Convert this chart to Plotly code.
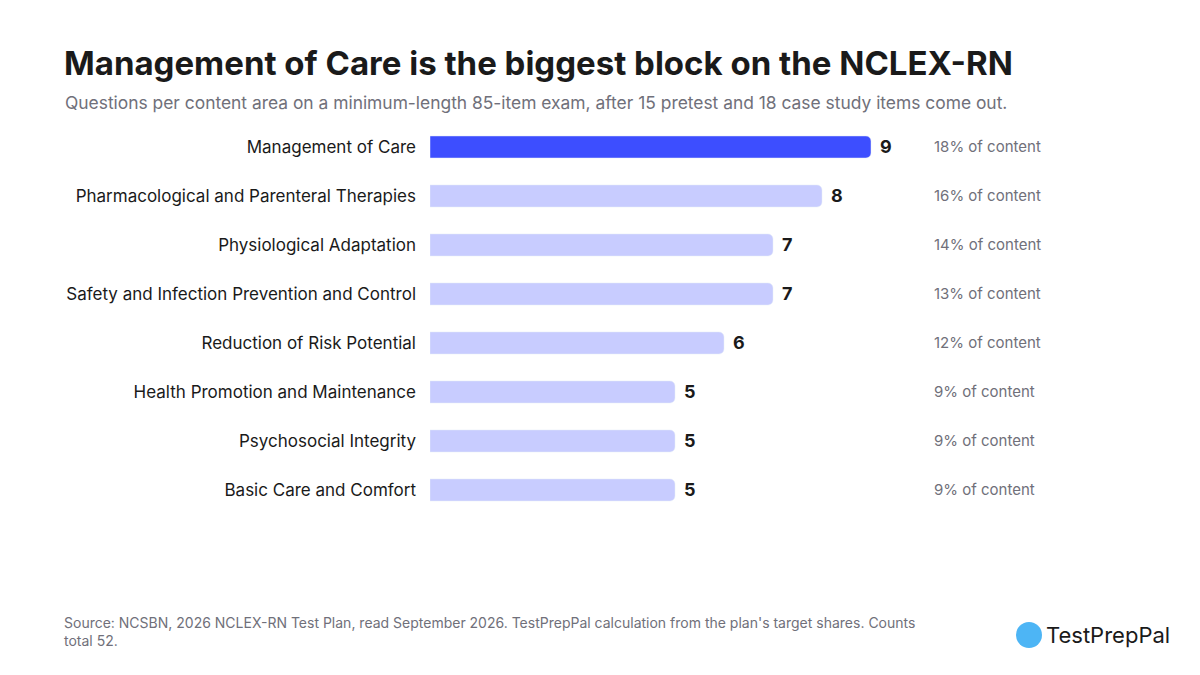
import plotly.graph_objects as go

categories = ["Management of Care", "Pharmacological and Parenteral Therapies",
              "Physiological Adaptation", "Safety and Infection Prevention and Control",
              "Reduction of Risk Potential", "Health Promotion and Maintenance",
              "Psychosocial Integrity", "Basic Care and Comfort"]
counts = [9, 8, 7, 7, 6, 5, 5, 5]
shares = ["18% of content", "16% of content", "14% of content", "13% of content",
          "12% of content", "9% of content", "9% of content", "9% of content"]
colors = ["#3D4EFF"] + ["#C8CCFF"] * 7

W, H, OFF = 1200, 675, 8
def px(x):
    return (x - OFF) / W
def py(y):
    return (H - (y - OFF)) / H

F = "Inter, Roboto, sans-serif"
fig = go.Figure(go.Bar(x=counts, y=categories, orientation="h", marker_color=colors,
                       marker_cornerradius=5, width=0.45, hoverinfo="skip"))
for c, v, s in zip(categories, counts, shares):
    fig.add_annotation(x=v, y=c, text=f"<b>{v}</b>", xanchor="left", xshift=7, showarrow=False,
                       font=dict(family=F, size=18, color="#1a1a1a"))
    fig.add_annotation(x=10.25, y=c, text=s, xanchor="left", showarrow=False,
                       font=dict(family=F, size=15, color="#70707a"))

fig.update_layout(
    width=W, height=H, paper_bgcolor="white", plot_bgcolor="white",
    margin=dict(l=0, r=0, t=0, b=0), showlegend=False,
    xaxis=dict(range=[0, 15.5], visible=False, fixedrange=True, domain=[px(430), px(430 + 15.5 * 49)]),
    yaxis=dict(autorange="reversed", showgrid=False, ticks="", ticklabelstandoff=13, automargin=False,
               domain=[py(147 + 7.5 * 49), py(147 - 0.5 * 49)],
               tickfont=dict(family=F, size=17, color="#1a1a1a")),
)
def note(x, y, text, size, color, **kw):
    fig.add_annotation(xref="paper", yref="paper", x=px(x), y=py(y), xanchor="left", yanchor="middle",
                       showarrow=False, text=text, font=dict(family=F, size=size, color=color), **kw)
note(62, 63, "<b>Management of Care is the biggest block on the NCLEX-RN</b>", 33, "#1a1a1a")
note(63, 102, "Questions per content area on a minimum-length 85-item exam, after 15 pretest and 18 case study items come out.", 17.4, "#70707a")
note(62, 631, "Source: NCSBN, 2026 NCLEX-RN Test Plan, read September 2026. TestPrepPal calculation from the plan's target shares. Counts<br>total 52.", 14, "#70707a", align="left")
fig.add_shape(type="circle", xref="paper", yref="paper", x0=px(1016), x1=px(1042),
              y0=py(648), y1=py(622), fillcolor="#4DB5F5", line_width=0)
note(1044, 635, "TestPrepPal", 22, "#1a1a1a")
fig.write_html("out.html")
